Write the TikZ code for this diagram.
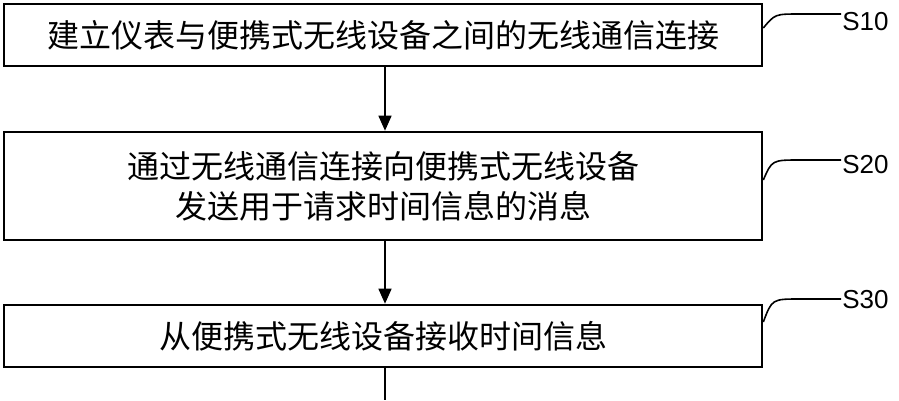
\documentclass[tikz,border=0pt]{standalone}
\usepackage{fontspec}
\setmainfont{Liberation Sans}
\newfontfamily\cjk{Noto Sans CJK SC}
\usetikzlibrary{arrows.meta}

\begin{document}
\begin{tikzpicture}[x=1pt, y=-1pt, line width=2.6pt,
  stepbox/.style={draw, minimum width=758pt, inner sep=0pt, align=center, font=\cjk\fontsize{32}{40}\selectfont},
  steplabel/.style={font=\fontsize{26}{30}\selectfont, anchor=west, inner sep=0pt}]

	\useasboundingbox (0,0) rectangle (899,400);

	\node[stepbox, minimum height=62pt] (s10) at (383,35) {建立仪表与便携式无线设备之间的无线通信连接};
	\node[stepbox, minimum height=108pt] (s20) at (383,186) {通过无线通信连接向便携式无线设备\\发送用于请求时间信息的消息};
	\node[stepbox, minimum height=62pt] (s30) at (383,336) {从便携式无线设备接收时间信息};
	\coordinate (out) at (385,400);

	\draw[-{Triangle[length=15pt,width=13pt]}, line width=1.5pt] (s10.south -| out)--(s20.north -| out);
	\draw[-{Triangle[length=15pt,width=13pt]}, line width=1.5pt] (s20.south -| out)--(s30.north -| out);
	\draw[line width=1.5pt] (s30.south -| out)--(out);

	\node[steplabel] (l10) at (841,22) {S10};
	\node[steplabel] (l20) at (841,165) {S20};
	\node[steplabel] (l30) at (841,300) {S30};

	\draw[line width=1.6pt] (s10.east |- 0,28) .. controls (775,14) .. (800,14)--(l10.west |- 0,14);
	\draw[line width=1.6pt] (s20.east |- 0,180) .. controls (772,160) .. (800,160)--(l20.west |- 0,160);
	\draw[line width=1.6pt] (s30.east |- 0,322) .. controls (772,299) .. (800,299)--(l30.west |- 0,299);
\end{tikzpicture}
\end{document}
